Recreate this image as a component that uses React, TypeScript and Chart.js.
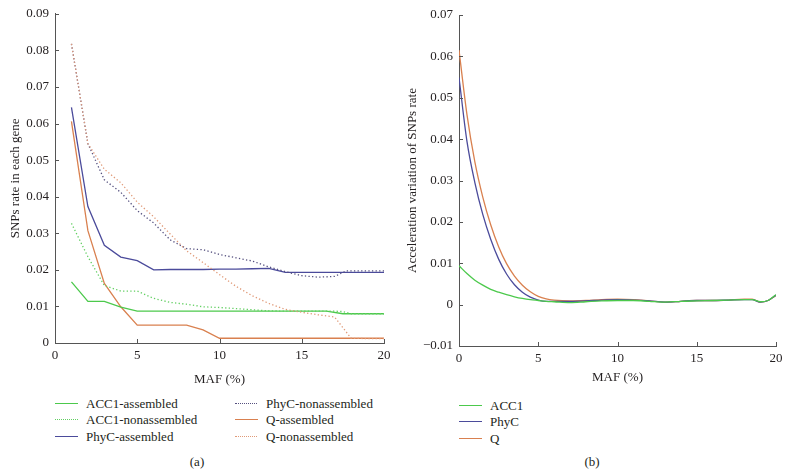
import React, { useEffect, useRef } from 'react';
import { Chart, registerables } from 'chart.js';

Chart.register(...registerables);

const FONT = '"Liberation Serif", "Times New Roman", serif';
const TEXT = '#231f20';
const AXIS = '#555555';

const GREEN = '#4cc94c';
const GREEN_DOT = '#62cf62';
const BLUE = '#4b4b9b';
const BLUE_DOT = '#55507f';
const ORANGE = '#d9804f';
const ORANGE_DOT = '#e09a78';

// ---------- Panel (a) data ----------
const acc1AssembledX = [1, 2, 3, 4, 5, 6, 8, 10, 12, 14, 16, 16.5, 17.5, 18, 19, 20];
const acc1AssembledY = [0.0167, 0.0114, 0.0114, 0.0098, 0.0087, 0.0087, 0.0087, 0.0087, 0.0087, 0.0087, 0.0087, 0.0087, 0.008, 0.008, 0.008, 0.008];

const acc1NonX = [1, 2, 3, 4, 5, 6, 7, 8, 9, 10, 11, 12, 13, 14, 15, 16, 17, 17.5, 18, 19, 20];
const acc1NonY = [0.0327, 0.0236, 0.0157, 0.0142, 0.0142, 0.0122, 0.0111, 0.0106, 0.0099, 0.0097, 0.0094, 0.0091, 0.0088, 0.0087, 0.0087, 0.0087, 0.0087, 0.0086, 0.008, 0.008, 0.008];

const phycAssembledX = [1, 2, 3, 4, 5, 6, 7, 8, 9, 10, 11, 12, 13, 14, 15, 16, 17, 18, 19, 20];
const phycAssembledY = [0.0644, 0.0373, 0.0267, 0.0235, 0.0225, 0.02, 0.0201, 0.0201, 0.0201, 0.0202, 0.0202, 0.0203, 0.0204, 0.0193, 0.0193, 0.0193, 0.0193, 0.0193, 0.0193, 0.0193];

const phycNonX = [1, 2, 3, 4, 5, 6, 7, 8, 9, 10, 11, 12, 13, 14, 15, 16, 17, 17.7, 18, 19, 20];
const phycNonY = [0.0818, 0.0545, 0.0446, 0.0412, 0.0362, 0.0328, 0.0282, 0.0258, 0.0255, 0.0242, 0.0233, 0.0224, 0.0208, 0.0195, 0.0184, 0.018, 0.0182, 0.0197, 0.0197, 0.0197, 0.0197];

const qAssembledX = [1, 2, 3, 4, 5, 6, 7, 8, 9, 10, 11, 12, 13, 14, 15, 16, 17, 18, 19, 20];
const qAssembledY = [0.0606, 0.0307, 0.0163, 0.0099, 0.0049, 0.0049, 0.0049, 0.0049, 0.0036, 0.0013, 0.0013, 0.0013, 0.0013, 0.0013, 0.0013, 0.0013, 0.0013, 0.0013, 0.0013, 0.0013];

const qNonX = [1, 2, 3, 4, 5, 6, 7, 8, 9, 10, 11, 12, 13, 14, 15, 16, 17, 18, 19, 20];
const qNonY = [0.0818, 0.0545, 0.0475, 0.0438, 0.0385, 0.0345, 0.0298, 0.0252, 0.022, 0.0187, 0.0155, 0.0129, 0.0108, 0.0092, 0.0084, 0.0077, 0.0071, 0.0013, 0.0012, 0.0012];

const leftYTickValues = [0, 0.01, 0.02, 0.03, 0.04, 0.05, 0.06, 0.07, 0.08, 0.09];
const leftYTickLabels = ['0', '0.01', '0.02', '0.03', '0.04', '0.05', '0.06', '0.07', '0.08', '0.09'];
const xTickValues = [0, 5, 10, 15, 20];
const xTickLabels = ['0', '5', '10', '15', '20'];

const leftSeriesNames = ['ACC1-assembled', 'ACC1-nonassembled', 'PhyC-assembled', 'PhyC-nonassembled', 'Q-assembled', 'Q-nonassembled'];

// ---------- Panel (b) data ----------
const rightX = [0, 0.5, 1, 1.5, 2, 2.5, 3, 3.5, 4, 4.5, 5, 5.5, 6, 7, 8, 9, 10, 11, 12, 13, 14, 15, 16, 17, 18, 18.5, 19, 19.5, 20];
const rightQ = [0.0615, 0.046, 0.0345, 0.026, 0.0193, 0.014, 0.0099, 0.0069, 0.0047, 0.0031, 0.002, 0.0014, 0.0011, 0.0009, 0.001, 0.0012, 0.0013, 0.0012, 0.0009, 0.0006, 0.0008, 0.001, 0.001, 0.0011, 0.0013, 0.0013, 0.0006, 0.001, 0.0022];
const rightPhyC = [0.0549, 0.0395, 0.0295, 0.0218, 0.0158, 0.011, 0.0074, 0.0048, 0.003, 0.0018, 0.0011, 0.0008, 0.0008, 0.0008, 0.0009, 0.0011, 0.0012, 0.0011, 0.0009, 0.0006, 0.0008, 0.001, 0.001, 0.0011, 0.0012, 0.0012, 0.0006, 0.001, 0.0023];
const rightACC1 = [0.0094, 0.0075, 0.0059, 0.0047, 0.0037, 0.003, 0.0024, 0.0019, 0.0015, 0.0012, 0.001, 0.0008, 0.0007, 0.0005, 0.0007, 0.0009, 0.001, 0.001, 0.0008, 0.0006, 0.0008, 0.0009, 0.001, 0.0011, 0.0012, 0.0012, 0.0007, 0.001, 0.0024];

const rightYTickValues = [-0.01, 0, 0.01, 0.02, 0.03, 0.04, 0.05, 0.06, 0.07];
const rightYTickLabels = ['\u22120.01', '0', '0.01', '0.02', '0.03', '0.04', '0.05', '0.06', '0.07'];
const rightSeriesNames = ['ACC1', 'PhyC', 'Q'];

const pts = (xs: number[], ys: number[]) => xs.map((x, i) => ({ x, y: ys[i] }));

const inwardTicks = {
  id: 'inwardTicks',
  afterDraw(chart: any) {
    const { ctx, chartArea, scales } = chart;
    ctx.save();
    ctx.strokeStyle = AXIS;
    ctx.lineWidth = 1;
    const ys = scales.y;
    ys.ticks.forEach((_t: any, i: number) => {
      const p = Math.round(ys.getPixelForTick(i)) + 0.5;
      ctx.beginPath();
      ctx.moveTo(chartArea.left, p);
      ctx.lineTo(chartArea.left + 4, p);
      ctx.stroke();
    });
    const xs = scales.x;
    xs.ticks.forEach((_t: any, i: number) => {
      const p = Math.round(xs.getPixelForTick(i)) + 0.5;
      ctx.beginPath();
      ctx.moveTo(p, chartArea.bottom);
      ctx.lineTo(p, chartArea.bottom - 4);
      ctx.stroke();
    });
    ctx.restore();
  },
};

function makeScales(opts: {
  yVals: number[]; yLabels: string[]; yMin: number; yMax: number; yTitle: string;
  yWidth: number; xHeight: number; yTitlePad: number; xTitlePad: number; yTickPad: number;
}) {
  const font = { family: FONT, size: 13 };
  return {
    x: {
      type: 'linear',
      min: 0,
      max: 20,
      afterBuildTicks: (s: any) => { s.ticks = xTickValues.map((v) => ({ value: v })); },
      afterFit: (s: any) => { s.height = opts.xHeight; },
      ticks: { font, color: TEXT, padding: 5, maxRotation: 0, callback: (_v: any, i: number) => xTickLabels[i] },
      grid: { display: false, drawTicks: false },
      border: { display: true, color: AXIS, width: 1 },
      title: { display: true, text: 'MAF (%)', font, color: TEXT, padding: { top: 0, bottom: opts.xTitlePad } },
    },
    y: {
      type: 'linear',
      min: opts.yMin,
      max: opts.yMax,
      afterBuildTicks: (s: any) => { s.ticks = opts.yVals.map((v) => ({ value: v })); },
      afterFit: (s: any) => { s.width = opts.yWidth; },
      ticks: { font, color: TEXT, padding: opts.yTickPad, callback: (_v: any, i: number) => opts.yLabels[i] },
      grid: { display: false, drawTicks: false },
      border: { display: true, color: AXIS, width: 1 },
      title: { display: true, text: opts.yTitle, font, color: TEXT, padding: { top: opts.yTitlePad, bottom: 0 } },
    },
  };
}

function LeftChart() {
  const ref = useRef<HTMLCanvasElement | null>(null);
  useEffect(() => {
    const dotted = [1.3, 2.3];
    const ds = (label: string, xs: number[], ys: number[], color: string, dash: number[] | null) => ({
      label,
      data: pts(xs, ys),
      borderColor: color,
      backgroundColor: color,
      borderWidth: 1.3,
      borderDash: dash || [],
      pointRadius: 0,
      tension: 0,
      fill: false,
    });
    const chart = new Chart(ref.current as HTMLCanvasElement, {
      type: 'line',
      data: {
        datasets: [
          ds(leftSeriesNames[5], qNonX, qNonY, ORANGE_DOT, dotted),
          ds(leftSeriesNames[3], phycNonX, phycNonY, BLUE_DOT, dotted),
          ds(leftSeriesNames[1], acc1NonX, acc1NonY, GREEN_DOT, dotted),
          ds(leftSeriesNames[2], phycAssembledX, phycAssembledY, BLUE, null),
          ds(leftSeriesNames[0], acc1AssembledX, acc1AssembledY, GREEN, null),
          ds(leftSeriesNames[4], qAssembledX, qAssembledY, ORANGE, null),
        ],
      },
      options: {
        animation: false,
        responsive: false,
        devicePixelRatio: 1,
        layout: { padding: { top: 13, right: 16, left: 0, bottom: 0 } },
        plugins: { legend: { display: false }, tooltip: { enabled: false } },
        scales: makeScales({
          yVals: leftYTickValues, yLabels: leftYTickLabels, yMin: 0, yMax: 0.09,
          yTitle: 'SNPs rate in each gene', yWidth: 55, xHeight: 52, yTitlePad: 8, xTitlePad: 8, yTickPad: 6,
        }) as any,
      },
      plugins: [inwardTicks],
    } as any);
    return () => chart.destroy();
  }, []);
  return <canvas ref={ref} width={400} height={395} style={{ position: 'absolute', left: 0, top: 0, width: 400, height: 395 }} />;
}

function RightChart() {
  const ref = useRef<HTMLCanvasElement | null>(null);
  useEffect(() => {
    const ds = (label: string, ys: number[], color: string) => ({
      label,
      data: pts(rightX, ys),
      borderColor: color,
      backgroundColor: color,
      borderWidth: 1.3,
      pointRadius: 0,
      cubicInterpolationMode: 'monotone',
      fill: false,
    });
    const chart = new Chart(ref.current as HTMLCanvasElement, {
      type: 'line',
      data: {
        datasets: [
          ds(rightSeriesNames[0], rightACC1, GREEN),
          ds(rightSeriesNames[1], rightPhyC, BLUE),
          ds(rightSeriesNames[2], rightQ, ORANGE),
        ],
      },
      options: {
        animation: false,
        responsive: false,
        devicePixelRatio: 1,
        layout: { padding: { top: 15, right: 13, left: 0, bottom: 0 } },
        plugins: { legend: { display: false }, tooltip: { enabled: false } },
        scales: makeScales({
          yVals: rightYTickValues, yLabels: rightYTickLabels, yMin: -0.01, yMax: 0.07,
          yTitle: 'Acceleration variation of SNPs rate', yWidth: 59, xHeight: 49, yTitlePad: 5, xTitlePad: 10, yTickPad: 6,
        }) as any,
      },
      plugins: [inwardTicks],
    } as any);
    return () => chart.destroy();
  }, []);
  return <canvas ref={ref} width={389} height={395} style={{ position: 'absolute', left: 400, top: 0, width: 389, height: 395 }} />;
}

function LegendRow(props: { x1: number; x2: number; tx: number; cy: number; color: string; dotted?: boolean; label: string }) {
  const { x1, x2, tx, cy, color, dotted, label } = props;
  return (
    <>
      <div style={{ position: 'absolute', left: x1, top: cy - 1, width: x2 - x1, height: 0, borderTop: `1.5px ${dotted ? 'dotted' : 'solid'} ${color}` }} />
      <div style={{ position: 'absolute', left: tx, top: cy - 9, lineHeight: '18px', fontSize: 13, fontFamily: FONT, color: TEXT, whiteSpace: 'nowrap' }}>{label}</div>
    </>
  );
}

export default function App() {
  return (
    <div style={{ position: 'fixed', left: 0, top: 0, width: 789, height: 476, background: '#fff', overflow: 'hidden' }}>
      <LeftChart />
      <RightChart />
      {/* Legend (a) */}
      <LegendRow x1={55} x2={78} tx={86} cy={404} color={GREEN} label={leftSeriesNames[0]} />
      <LegendRow x1={55} x2={78} tx={86} cy={420} color={GREEN_DOT} dotted label={leftSeriesNames[1]} />
      <LegendRow x1={55} x2={78} tx={86} cy={437} color={BLUE} label={leftSeriesNames[2]} />
      <LegendRow x1={235} x2={257} tx={266} cy={404} color={BLUE_DOT} dotted label={leftSeriesNames[3]} />
      <LegendRow x1={235} x2={258} tx={266} cy={420} color={ORANGE} label={leftSeriesNames[4]} />
      <LegendRow x1={235} x2={257} tx={266} cy={437} color={ORANGE_DOT} dotted label={leftSeriesNames[5]} />
      <div style={{ position: 'absolute', left: 187, top: 453, width: 20, textAlign: 'center', lineHeight: '18px', fontSize: 13, fontFamily: FONT, color: TEXT }}>(a)</div>
      {/* Legend (b) */}
      <LegendRow x1={459} x2={482} tx={490} cy={406} color={GREEN} label={rightSeriesNames[0]} />
      <LegendRow x1={459} x2={482} tx={490} cy={422} color={BLUE} label={rightSeriesNames[1]} />
      <LegendRow x1={459} x2={482} tx={490} cy={439} color={ORANGE} label={rightSeriesNames[2]} />
      <div style={{ position: 'absolute', left: 582, top: 453, width: 20, textAlign: 'center', lineHeight: '18px', fontSize: 13, fontFamily: FONT, color: TEXT }}>(b)</div>
    </div>
  );
}
